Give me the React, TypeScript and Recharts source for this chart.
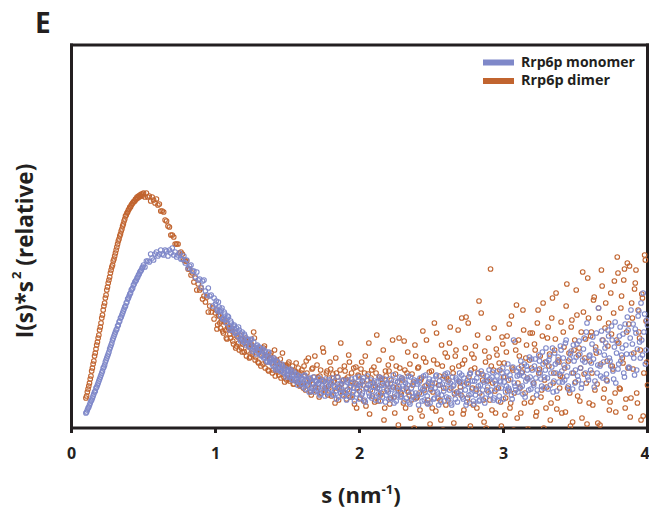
import React from 'react';
import { ScatterChart, Scatter, XAxis, YAxis } from 'recharts';

// s values (nm^-1) of the sampled points
const S_LOW = [
  0.1, 0.105, 0.11, 0.115, 0.12, 0.125, 0.13, 0.135, 0.14, 0.145,
  0.15, 0.155, 0.16, 0.165, 0.17, 0.175, 0.18, 0.185, 0.19, 0.195,
  0.2, 0.205, 0.21, 0.215, 0.22, 0.225, 0.23, 0.235, 0.24, 0.245,
  0.25, 0.255, 0.26, 0.265, 0.27, 0.275, 0.28, 0.285, 0.29, 0.295,
  0.3, 0.305, 0.31, 0.315, 0.32, 0.325, 0.33, 0.335, 0.34, 0.345,
  0.35, 0.355, 0.36, 0.365, 0.37, 0.375, 0.38, 0.385, 0.39, 0.395,
  0.4, 0.405, 0.41, 0.415, 0.42, 0.425, 0.43, 0.435, 0.44, 0.445,
  0.45, 0.455, 0.46, 0.465, 0.47, 0.475, 0.48, 0.485, 0.49, 0.495,
];
const S_MID = [
  0.5, 0.51, 0.52, 0.53, 0.54, 0.55, 0.56, 0.57, 0.58, 0.59,
  0.6, 0.61, 0.62, 0.63, 0.64, 0.65, 0.66, 0.67, 0.68, 0.69,
  0.7, 0.71, 0.72, 0.73, 0.74, 0.75, 0.76, 0.77, 0.78, 0.79,
  0.8, 0.81, 0.82, 0.83, 0.84, 0.85, 0.86, 0.87, 0.88, 0.89,
  0.9, 0.91, 0.92, 0.93, 0.94, 0.95, 0.96, 0.97, 0.98, 0.99,
  1.0, 1.01, 1.02, 1.03, 1.04, 1.05, 1.06, 1.07, 1.08, 1.09,
  1.1, 1.11, 1.12, 1.13, 1.14, 1.15, 1.16, 1.17, 1.18, 1.19,
  1.2, 1.21, 1.22, 1.23, 1.24, 1.25, 1.26, 1.27, 1.28, 1.29,
  1.3, 1.31, 1.32, 1.33, 1.34, 1.35, 1.36, 1.37, 1.38, 1.39,
  1.4, 1.41, 1.42, 1.43, 1.44, 1.45, 1.46, 1.47, 1.48, 1.49,
  1.5, 1.51, 1.52, 1.53, 1.54, 1.55, 1.56, 1.57, 1.58, 1.59,
];
const S_HIGH = [
  1.6, 1.61, 1.62, 1.63, 1.64, 1.65, 1.66, 1.67, 1.68, 1.69,
  1.7, 1.71, 1.72, 1.73, 1.74, 1.75, 1.76, 1.77, 1.78, 1.79,
  1.8, 1.81, 1.82, 1.83, 1.84, 1.85, 1.86, 1.87, 1.88, 1.89,
  1.9, 1.91, 1.92, 1.93, 1.94, 1.95, 1.96, 1.97, 1.98, 1.99,
  2.0, 2.01, 2.02, 2.03, 2.04, 2.05, 2.06, 2.07, 2.08, 2.09,
  2.1, 2.11, 2.12, 2.13, 2.14, 2.15, 2.16, 2.17, 2.18, 2.19,
  2.2, 2.21, 2.22, 2.23, 2.24, 2.25, 2.26, 2.27, 2.28, 2.29,
  2.3, 2.31, 2.32, 2.33, 2.34, 2.35, 2.36, 2.37, 2.38, 2.39,
  2.4, 2.41, 2.42, 2.43, 2.44, 2.45, 2.46, 2.47, 2.48, 2.49,
  2.5, 2.51, 2.52, 2.53, 2.54, 2.55, 2.56, 2.57, 2.58, 2.59,
  2.6, 2.61, 2.62, 2.63, 2.64, 2.65, 2.66, 2.67, 2.68, 2.69,
  2.7, 2.71, 2.72, 2.73, 2.74, 2.75, 2.76, 2.77, 2.78, 2.79,
  2.8, 2.81, 2.82, 2.83, 2.84, 2.85, 2.86, 2.87, 2.88, 2.89,
  2.9, 2.91, 2.92, 2.93, 2.94, 2.95, 2.96, 2.97, 2.98, 2.99,
  3.0, 3.01, 3.02, 3.03, 3.04, 3.05, 3.06, 3.07, 3.08, 3.09,
  3.1, 3.11, 3.12, 3.13, 3.14, 3.15, 3.16, 3.17, 3.18, 3.19,
  3.2, 3.21, 3.22, 3.23, 3.24, 3.25, 3.26, 3.27, 3.28, 3.29,
  3.3, 3.31, 3.32, 3.33, 3.34, 3.35, 3.36, 3.37, 3.38, 3.39,
  3.4, 3.41, 3.42, 3.43, 3.44, 3.45, 3.46, 3.47, 3.48, 3.49,
  3.5, 3.51, 3.52, 3.53, 3.54, 3.55, 3.56, 3.57, 3.58, 3.59,
  3.6, 3.61, 3.62, 3.63, 3.64, 3.65, 3.66, 3.67, 3.68, 3.69,
  3.7, 3.71, 3.72, 3.73, 3.74, 3.75, 3.76, 3.77, 3.78, 3.79,
  3.8, 3.81, 3.82, 3.83, 3.84, 3.85, 3.86, 3.87, 3.88, 3.89,
  3.9, 3.91, 3.92, 3.93, 3.94, 3.95, 3.96, 3.97, 3.98, 3.99,
  4.0,
];
// in-between frames of the noisy part (s = 1.005 ... 3.995)
const S_HALF = [
  1.005, 1.015, 1.025, 1.035, 1.045, 1.055, 1.065, 1.075, 1.085, 1.095,
  1.105, 1.115, 1.125, 1.135, 1.145, 1.155, 1.165, 1.175, 1.185, 1.195,
  1.205, 1.215, 1.225, 1.235, 1.245, 1.255, 1.265, 1.275, 1.285, 1.295,
  1.305, 1.315, 1.325, 1.335, 1.345, 1.355, 1.365, 1.375, 1.385, 1.395,
  1.405, 1.415, 1.425, 1.435, 1.445, 1.455, 1.465, 1.475, 1.485, 1.495,
  1.505, 1.515, 1.525, 1.535, 1.545, 1.555, 1.565, 1.575, 1.585, 1.595,
  1.605, 1.615, 1.625, 1.635, 1.645, 1.655, 1.665, 1.675, 1.685, 1.695,
  1.705, 1.715, 1.725, 1.735, 1.745, 1.755, 1.765, 1.775, 1.785, 1.795,
  1.805, 1.815, 1.825, 1.835, 1.845, 1.855, 1.865, 1.875, 1.885, 1.895,
  1.905, 1.915, 1.925, 1.935, 1.945, 1.955, 1.965, 1.975, 1.985, 1.995,
  2.005, 2.015, 2.025, 2.035, 2.045, 2.055, 2.065, 2.075, 2.085, 2.095,
  2.105, 2.115, 2.125, 2.135, 2.145, 2.155, 2.165, 2.175, 2.185, 2.195,
  2.205, 2.215, 2.225, 2.235, 2.245, 2.255, 2.265, 2.275, 2.285, 2.295,
  2.305, 2.315, 2.325, 2.335, 2.345, 2.355, 2.365, 2.375, 2.385, 2.395,
  2.405, 2.415, 2.425, 2.435, 2.445, 2.455, 2.465, 2.475, 2.485, 2.495,
  2.505, 2.515, 2.525, 2.535, 2.545, 2.555, 2.565, 2.575, 2.585, 2.595,
  2.605, 2.615, 2.625, 2.635, 2.645, 2.655, 2.665, 2.675, 2.685, 2.695,
  2.705, 2.715, 2.725, 2.735, 2.745, 2.755, 2.765, 2.775, 2.785, 2.795,
  2.805, 2.815, 2.825, 2.835, 2.845, 2.855, 2.865, 2.875, 2.885, 2.895,
  2.905, 2.915, 2.925, 2.935, 2.945, 2.955, 2.965, 2.975, 2.985, 2.995,
  3.005, 3.015, 3.025, 3.035, 3.045, 3.055, 3.065, 3.075, 3.085, 3.095,
  3.105, 3.115, 3.125, 3.135, 3.145, 3.155, 3.165, 3.175, 3.185, 3.195,
  3.205, 3.215, 3.225, 3.235, 3.245, 3.255, 3.265, 3.275, 3.285, 3.295,
  3.305, 3.315, 3.325, 3.335, 3.345, 3.355, 3.365, 3.375, 3.385, 3.395,
  3.405, 3.415, 3.425, 3.435, 3.445, 3.455, 3.465, 3.475, 3.485, 3.495,
  3.505, 3.515, 3.525, 3.535, 3.545, 3.555, 3.565, 3.575, 3.585, 3.595,
  3.605, 3.615, 3.625, 3.635, 3.645, 3.655, 3.665, 3.675, 3.685, 3.695,
  3.705, 3.715, 3.725, 3.735, 3.745, 3.755, 3.765, 3.775, 3.785, 3.795,
  3.805, 3.815, 3.825, 3.835, 3.845, 3.855, 3.865, 3.875, 3.885, 3.895,
  3.905, 3.915, 3.925, 3.935, 3.945, 3.955, 3.965, 3.975, 3.985, 3.995,
];

// I(s)*s^2, relative units (0 = bottom of frame, 383 = top)
const MONOMER_LOW = [
  15, 16, 18, 20, 21, 23, 25, 27, 28, 30,
  32, 34, 36, 37, 40, 41, 43, 45, 47, 49,
  51, 53, 55, 57, 60, 61, 63, 66, 68, 70,
  72, 74, 76, 79, 81, 83, 85, 88, 90, 92,
  94, 96, 98, 99, 102, 103, 106, 107, 110, 111,
  113, 115, 117, 119, 121, 122, 125, 126, 129, 130,
  132, 134, 135, 138, 139, 140, 143, 144, 146, 147,
  148, 150, 151, 153, 154, 156, 157, 158, 160, 161,
];
const MONOMER_MID = [
  163, 161, 167, 167, 166, 174, 170, 168, 174, 176,
  172, 174, 178, 174, 173, 178, 177, 172, 178, 175,
  180, 173, 176, 171, 173, 175, 169, 169, 172, 165,
  168, 160, 162, 163, 157, 157, 151, 156, 148, 149,
  141, 147, 148, 137, 133, 140, 132, 133, 122, 130,
  124, 119, 126, 117, 118, 109, 116, 108, 109, 111,
  98, 105, 100, 103, 95, 96, 101, 89, 94, 89,
  94, 83, 88, 88, 82, 89, 79, 81, 74, 83,
  77, 80, 72, 79, 71, 73, 66, 76, 67, 69,
  62, 68, 58, 66, 61, 57, 64, 56, 58, 51,
  58, 53, 59, 49, 54, 49, 54, 43, 52, 47,
];
const MONOMER_HIGH = [
  50, 41, 53, 44, 47, 36, 49, 40, 51, 36,
  46, 40, 50, 34, 42, 47, 32, 43, 36, 48,
  39, 50, 34, 41, 29, 44, 39, 35, 47, 32,
  42, 28, 48, 37, 45, 31, 40, 50, 34, 43,
  29, 45, 35, 50, 26, 40, 43, 32, 48, 37,
  41, 28, 46, 34, 39, 50, 31, 43, 26, 44,
  36, 49, 30, 41, 25, 47, 33, 38, 51, 32,
  42, 27, 45, 37, 52, 24, 40, 31, 48, 35,
  44, 23, 50, 34, 39, 28, 53, 32, 46, 25,
  41, 48, 30, 52, 36, 23, 43, 33, 50, 27,
  40, 55, 30, 45, 23, 42, 35, 50, 26, 47,
  37, 53, 29, 43, 23, 48, 33, 55, 39, 27,
  47, 37, 55, 27, 43, 33, 53, 25, 47, 41,
  58, 33, 51, 28, 47, 39, 57, 32, 46, 55,
  29, 51, 42, 64, 38, 49, 29, 88, 42, 57,
  36, 53, 67, 42, 52, 31, 62, 49, 71, 39,
  58, 43, 69, 33, 58, 67, 49, 76, 40, 58,
  66, 39, 72, 55, 80, 47, 64, 37, 71, 54,
  78, 46, 63, 85, 52, 42, 69, 77, 39, 67,
  58, 84, 48, 74, 40, 68, 90, 55, 105, 48,
  73, 65, 91, 41, 78, 55, 120, 62, 97, 50,
  73, 85, 47, 92, 67, 102, 57, 81, 45, 86,
  64, 101, 73, 94, 51, 83, 111, 61, 90, 74,
  104, 53, 95, 79, 117, 70, 88, 135, 114, 78,
  103,
];
const MONOMER_HALF = [
  127, 117, 121, 112, 120, 110, 114, 105, 112, 102,
  107, 98, 102, 95, 100, 92, 98, 87, 96, 86,
  92, 85, 89, 81, 88, 77, 86, 78, 82, 76,
  81, 73, 78, 70, 77, 67, 75, 66, 70, 64,
  70, 60, 67, 59, 63, 57, 62, 55, 60, 53,
  58, 51, 57, 48, 56, 47, 53, 46, 52, 44,
  44, 52, 39, 48, 42, 50, 37, 45, 41, 47,
  38, 45, 33, 47, 40, 36, 49, 41, 35, 44,
  46, 33, 42, 37, 51, 31, 44, 38, 48, 36,
  35, 46, 32, 41, 49, 36, 27, 44, 39, 51,
  42, 33, 47, 28, 39, 52, 35, 44, 30, 41,
  47, 32, 40, 51, 27, 43, 36, 49, 33, 38,
  29, 44, 39, 53, 34, 27, 46, 41, 31, 50,
  39, 48, 30, 43, 26, 51, 35, 44, 29, 47,
  33, 46, 40, 27, 52, 36, 43, 24, 49, 38,
  45, 29, 40, 53, 34, 47, 26, 44, 37, 54,
  31, 46, 38, 25, 51, 43, 29, 48, 35, 55,
  45, 31, 50, 38, 26, 44, 54, 34, 47, 24,
  33, 50, 42, 28, 57, 38, 46, 30, 52, 36,
  49, 38, 56, 30, 44, 52, 27, 47, 40, 60,
  46, 36, 56, 40, 53, 33, 61, 45, 38, 52,
  60, 41, 55, 34, 64, 47, 58, 38, 51, 69,
  45, 62, 50, 38, 73, 55, 42, 64, 51, 80,
  50, 68, 43, 61, 36, 75, 55, 66, 46, 82,
  57, 70, 48, 88, 61, 38, 74, 55, 83, 45,
  71, 52, 87, 60, 44, 79, 66, 96, 51, 72,
  58, 84, 69, 47, 95, 63, 76, 52, 88, 66,
  80, 54, 98, 70, 62, 88, 49, 106, 75, 59,
  92, 67, 80, 55, 104, 74, 98, 60, 118, 84,
  70, 99, 58, 112, 86, 125, 73, 96, 64, 108,
];

const DIMER_LOW = [
  30, 32, 36, 39, 42, 45, 49, 52, 57, 60,
  64, 67, 72, 75, 79, 83, 86, 90, 93, 98,
  101, 105, 110, 113, 118, 122, 125, 130, 133, 138,
  141, 145, 148, 151, 155, 158, 161, 163, 167, 169,
  172, 175, 178, 181, 184, 187, 189, 192, 194, 197,
  199, 202, 204, 207, 209, 212, 213, 215, 216, 218,
  219, 221, 221, 223, 224, 225, 226, 227, 227, 229,
  229, 231, 230, 232, 231, 233, 232, 234, 232, 234,
];
const DIMER_MID = [
  235, 231, 235, 231, 232, 227, 231, 228, 225, 229,
  223, 224, 217, 217, 216, 208, 207, 202, 201, 193,
  193, 191, 184, 184, 184, 175, 176, 174, 168, 167,
  167, 159, 159, 153, 155, 146, 150, 138, 144, 138,
  140, 129, 132, 126, 131, 116, 122, 116, 120, 109,
  115, 99, 113, 105, 107, 97, 107, 98, 89, 100,
  94, 100, 87, 93, 80, 92, 85, 93, 80, 84,
  76, 90, 77, 82, 71, 83, 76, 90, 71, 78,
  65, 79, 73, 64, 82, 66, 72, 57, 73, 65,
  58, 78, 58, 65, 53, 69, 57, 63, 46, 63,
  53, 66, 49, 56, 44, 57, 65, 46, 54, 43,
];
const DIMER_HIGH = [
  58, 40, 52, 67, 43, 49, 36, 59, 44, 72,
  37, 51, 31, 58, 48, 76, 40, 55, 33, 50,
  59, 37, 46, 25, 55, 51, 41, 85, 33, 48,
  57, 29, 51, 66, 42, 33, 60, 45, 20, 53,
  37, 59, 47, 27, 72, 40, 54, 14, 50, 32,
  61, 42, 93, 27, 51, 35, 45, 8, 57, 38,
  63, 24, 48, 88, 31, 54, 40, 3, 60, 34,
  48, 87, 20, 55, 36, 64, 28, 43, 0, 72,
  31, 61, 18, 50, 97, 38, 66, 25, 44, 4,
  57, 36, 105, 17, 64, 43, 28, 83, -2, 52,
  23, 71, 48, 101, 15, 55, 34, 78, -5, 62,
  41, 110, 14, 68, 111, 30, 51, 2, 74, 23,
  60, 39, 93, 127, 13, 54, 28, 77, 0, 47,
  71, 159, 18, 58, 37, 79, -4, 65, 26, 91,
  51, 13, 76, 37, 104, 25, 60, -2, 86, 123,
  45, 72, 15, 56, 98, 35, 83, -1, 68, 26,
  95, 45, 78, 16, 118, 59, 31, 92, 0, 66,
  41, 101, 74, 25, 130, 55, 89, 19, 68, 40,
  106, 51, 81, 16, 144, 67, 35, 101, 6, 78,
  46, 113, 73, 27, 96, 156, 54, 89, 4, 110,
  67, 96, 23, 131, 81, 44, 120, 3, 158, 88,
  39, 125, 67, 105, 26, 94, 59, 147, 16, 171,
  85, 39, 132, 65, 159, 29, 165, 104, 11, 125,
  59, 139, 158, 25, 96, 78, 134, 12, 173, 107,
  43,
];
const DIMER_HALF = [
  118, 103, 112, 100, 109, 95, 106, 90, 101, 99,
  90, 97, 84, 96, 82, 91, 78, 89, 76, 86,
  88, 72, 84, 70, 85, 74, 96, 68, 80, 66,
  78, 62, 75, 80, 60, 72, 58, 70, 75, 55,
  70, 52, 68, 56, 64, 50, 75, 51, 62, 48,
  64, 47, 58, 62, 44, 56, 49, 60, 42, 55,
  45, 62, 38, 55, 70, 47, 33, 60, 51, 41,
  63, 44, 52, 35, 80, 47, 38, 57, 42, 66,
  32, 54, 47, 70, 40, 28, 58, 44, 36, 62,
  49, 38, 73, 31, 55, 46, 24, 61, 40, 52,
  30, 66, 43, 55, 22, 48, 85, 38, 58, 45,
  26, 55, 40, 68, 33, 49, 78, 20, 52, 44,
  57, 30, 70, 41, 15, 62, 46, 90, 36, 50,
  25, 58, 40, 76, 33, 10, 54, 46, 83, 30,
  60, 35, 48, 12, 70, 42, 88, 28, 56, 39,
  20, 68, 45, 95, 30, 52, 8, 62, 40, 75,
  50, 28, 85, 40, 60, 5, 72, 36, 98, 46,
  33, 64, 18, 80, 45, 105, 25, 58, 40, 70,
  82, 20, 55, 35, 115, 48, 6, 66, 38, 90,
  28, 62, 45, 100, 15, 73, 40, 58, 2, 84,
  65, 30, 92, 48, 20, 112, 58, 35, 78, 10,
  88, 40, 62, 118, 25, 70, 50, -3, 95, 60,
  30, 84, 12, 105, 55, 72, 38, 125, 48, 20,
  90, 62, 8, 110, 45, 78, 135, 30, 66, 52,
  15, 96, 60, 122, 40, 75, 2, 108, 55, 88,
  138, 32, 80, 60, 10, 116, 70, 45, 150, 25,
  92, 55, 128, 38, 75, 5, 110, 64, 142, 30,
  100, 48, 82, 18, 135, 62, 115, 35, 88, 155,
  40, 120, 70, 148, 20, 96, 60, 162, 30, 110,
  75, 145, 35, 118, 90, 8, 130, 55, 168, 66,
];

const X_TICKS = [0, 1, 2, 3, 4];

const INK = '#231f20';
const MONOMER_COLOR = '#7f88c9';
const DIMER_COLOR = '#c1642f';
const FONT = '"Open Sans", "DejaVu Sans", sans-serif';

const S_ALL = [...S_LOW, ...S_MID, ...S_HIGH, ...S_HALF];
const MONOMER_ALL = [...MONOMER_LOW, ...MONOMER_MID, ...MONOMER_HIGH, ...MONOMER_HALF];
const DIMER_ALL = [...DIMER_LOW, ...DIMER_MID, ...DIMER_HIGH, ...DIMER_HALF];

const monomerData = S_ALL.map((s, i) => ({ s, v: MONOMER_ALL[i] }));
const dimerData = S_ALL.map((s, i) => ({ s, v: DIMER_ALL[i] }));

const ring = (color: string) => (props: any) => (
  <circle cx={props.cx} cy={props.cy} r={2.3} fill="none" stroke={color} strokeWidth={1.1} />
);

const frameLine = { stroke: INK, strokeWidth: 3, strokeLinecap: 'square' as const };

export default function App() {
  return (
    <div style={{ position: 'absolute', left: 0, top: 0, width: 649, height: 510, background: '#fff' }}>
      <ScatterChart
        width={649}
        height={510}
        margin={{ top: 44, right: 0.5, bottom: 52, left: 70.5 }}
      >
        <XAxis
          xAxisId="bottom"
          dataKey="s"
          type="number"
          domain={[0, 4]}
          ticks={X_TICKS}
          height={30}
          axisLine={frameLine}
          tickLine={{ stroke: INK, strokeWidth: 3 }}
          tickSize={5}
          tickMargin={15}
          tick={{ fill: INK, fontSize: 16, fontWeight: 700, fontFamily: FONT }}
        />
        <XAxis
          xAxisId="top"
          orientation="top"
          type="number"
          domain={[0, 4]}
          height={1}
          axisLine={frameLine}
          tick={false}
          tickLine={false}
        />
        <YAxis
          yAxisId="left"
          dataKey="v"
          type="number"
          domain={[0, 383]}
          allowDataOverflow
          width={1}
          axisLine={frameLine}
          tick={false}
          tickLine={false}
        />
        <YAxis
          yAxisId="right"
          orientation="right"
          type="number"
          domain={[0, 383]}
          width={1}
          axisLine={frameLine}
          tick={false}
          tickLine={false}
        />
        <Scatter
          name="Rrp6p dimer"
          data={dimerData}
          xAxisId="bottom"
          yAxisId="left"
          shape={ring(DIMER_COLOR)}
          isAnimationActive={false}
        />
        <Scatter
          name="Rrp6p monomer"
          data={monomerData}
          xAxisId="bottom"
          yAxisId="left"
          shape={ring(MONOMER_COLOR)}
          isAnimationActive={false}
        />
      </ScatterChart>

      <svg
        width={649}
        height={510}
        style={{ position: 'absolute', left: 0, top: 0, pointerEvents: 'none' }}
        fontFamily={FONT}
        fontWeight={700}
        fill={INK}
      >
        <text x={35} y={33} fontSize={28}>E</text>

        <text x={361} y={503} fontSize={22} textAnchor="middle">
          s (nm<tspan fontSize={13} dy={-9}>-1</tspan><tspan dy={9}>)</tspan>
        </text>

        <text
          transform="translate(24,251) rotate(-90)"
          fontSize={22.5}
          textAnchor="middle"
          dominantBaseline="central"
        >
          I(s)*s<tspan fontSize={13} dy={-8} dx={2}>2</tspan><tspan dy={8}> (relative)</tspan>
        </text>

        <rect x={483} y={59.5} width={31} height={6} fill={MONOMER_COLOR} />
        <text x={521} y={67} fontSize={14} textLength={114} lengthAdjust="spacingAndGlyphs">
          Rrp6p monomer
        </text>
        <rect x={483} y={78} width={31} height={6} fill={DIMER_COLOR} />
        <text x={521} y={85} fontSize={14} textLength={89} lengthAdjust="spacingAndGlyphs">
          Rrp6p dimer
        </text>
      </svg>
    </div>
  );
}
